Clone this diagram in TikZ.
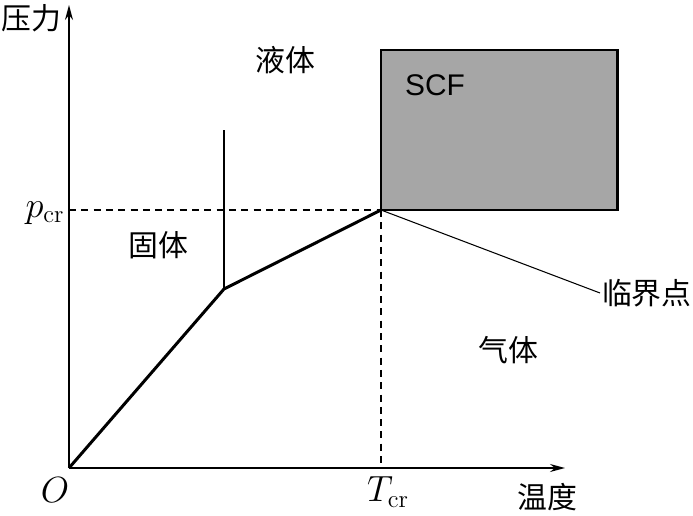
\documentclass[tikz,border=0pt]{standalone}
\usepackage{fontspec}
\newfontfamily\cjk{Noto Sans CJK SC}
\setsansfont{Liberation Sans}
\usetikzlibrary{arrows.meta, calc}
\definecolor{scfgray}{HTML}{A6A6A6}
\tikzset{
  axis/.style={-{Stealth[length=3mm, width=1.6mm]}, line width=0.8pt},
  phase/.style={line width=1.7pt, line join=round},
  guide/.style={dashed, line width=0.8pt, dash pattern=on 4pt off 3pt},
  every node/.append style={font=\fontsize{17}{20}\selectfont}
}
\begin{document}
\begin{tikzpicture}
\useasboundingbox (-1.38,-0.94) rectangle (12.48,9.36);
\coordinate (O) at (0,0);
\coordinate (ytop) at (0,9.26);
\coordinate (xend) at (9.92,0);
\coordinate (tp) at (3.10,3.58);
\coordinate (tptop) at (3.10,6.76);
\coordinate (cp) at (6.24,5.16);
\coordinate (pax) at (0,5.16);
\coordinate (tax) at (6.24,0);
\coordinate (scfnw) at (6.24,8.36);
\coordinate (scfse) at (10.96,5.16);
% SCF region
\fill[scfgray, draw=black, line width=1.7pt] (scfnw) rectangle (scfse);
% axes
\draw[axis] (O) -- (ytop);
\draw[axis] (O) -- (xend);
% critical lines
\draw[guide] (pax) -- (cp);
\draw[guide] (cp) -- (tax);
% phase boundaries
\draw[phase] (O) -- (tp) -- (cp);
\draw[phase] (tp) -- (tptop);
\node[anchor=west, inner sep=1pt] (lbl) at (10.62,3.5) {\cjk 临界点};
\draw[line width=0.6pt] (cp) -- (lbl.west);
% labels
\node (liq) at (4.32,8.16) {\cjk 液体};
\node (scf) at (7.32,7.66) {\sffamily SCF};
\node (sol) at (1.78,4.46) {\cjk 固体};
\node (gas) at (8.78,2.36) {\cjk 气体};
\node (pcr) at (-0.48,5.1) {\fontsize{20}{22}\selectfont$p_{\mathrm{cr}}$};
\node (tcr) at (6.38,-0.48) {\fontsize{20}{22}\selectfont$T_{\mathrm{cr}}$};
\node (o) at (-0.28,-0.44) {\fontsize{20}{22}\selectfont$O$};
\node (xlab) at (9.56,-0.58) {\cjk 温度};
\node[anchor=west, inner sep=0pt] (ylab) at (-1.36,9.0) {\cjk 压力};
\end{tikzpicture}
\end{document}
